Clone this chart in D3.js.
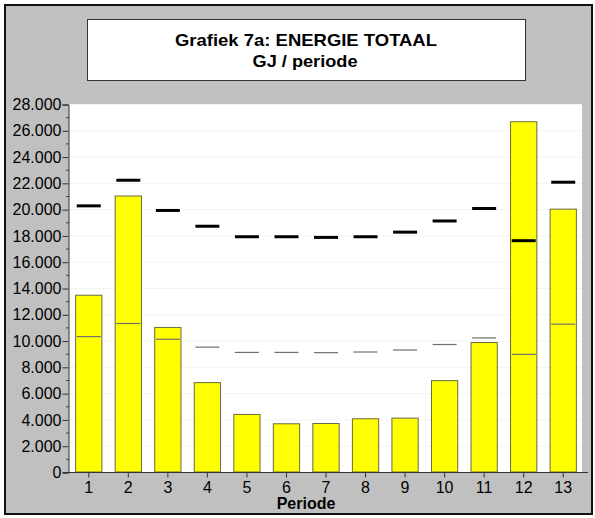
<!DOCTYPE html>
<html><head><meta charset="utf-8">
<script src="https://cdn.jsdelivr.net/npm/d3@7"></script>
<style>body{margin:0;background:#fff}svg{display:block}text{font-family:Arial,"Liberation Sans",sans-serif}</style>
</head><body>
<svg id="c" width="595" height="518"></svg>
<script>
const periods = ["1","2","3","4","5","6","7","8","9","10","11","12","13"];
const barValues = [13450, 21000, 11000, 6800, 4380, 3670, 3690, 4050, 4100, 6950, 9850, 26650, 20000];
const upperValues = [20250, 22200, 19900, 18700, 17900, 17900, 17850, 17900, 18250, 19100, 20050, 17600, 22050];
const lowerValues = [10300, 11300, 10100, 9500, 9100, 9100, 9080, 9130, 9280, 9700, 10200, 8950, 11250];
const yTicks = [0,2000,4000,6000,8000,10000,12000,14000,16000,18000,20000,22000,24000,26000,28000];
const titleLines = ["Grafiek 7a: ENERGIE TOTAAL", "GJ / periode"];
const xTitle = "Periode";

const FONT = "Arial,'Liberation Sans',sans-serif";
const svg = d3.select("#c");
const L = 69, R = 583, T = 104, B = 472;

svg.append("rect").attr("x",5).attr("y",5).attr("width",587).attr("height",509)
  .attr("fill","#c0c0c0").attr("stroke","#111").attr("stroke-width",2);

svg.append("rect").attr("x",87.5).attr("y",19.5).attr("width",438).attr("height",61)
  .attr("fill","#fff").attr("stroke","#333").attr("stroke-width",1);
svg.append("text").attr("x",175).attr("y",45.7)
  .attr("font-size",17).attr("font-weight","bold")
  .attr("textLength",262).attr("lengthAdjust","spacingAndGlyphs").text(titleLines[0]);
svg.append("text").attr("x",252.5).attr("y",66.5)
  .attr("font-size",17).attr("font-weight","bold")
  .attr("textLength",105).attr("lengthAdjust","spacingAndGlyphs").text(titleLines[1]);

svg.append("rect").attr("x",L).attr("y",T).attr("width",R-L-1).attr("height",B-T).attr("fill","#fff");

const x = d3.scaleBand().domain(periods).range([L,R]).paddingInner(0.31).paddingOuter(0.155);
const y = d3.scaleLinear().domain([0,28000]).range([B,T]);

const loc = d3.formatLocale({thousands:".", grouping:[3], decimal:",", currency:["",""]});
const fmt = loc.format(",d");

// faint gridlines
svg.append("g").selectAll("line").data(yTicks.slice(1)).join("line")
  .attr("x1",L).attr("x2",R-1).attr("y1",d=>y(d)+0.5).attr("y2",d=>y(d)+0.5)
  .attr("stroke","#f3f3f3").attr("stroke-width",1);

// bars
svg.append("g").selectAll("rect").data(barValues).join("rect")
  .attr("x",(d,i)=>x(periods[i])+0.5).attr("y",d=>y(d))
  .attr("width",x.bandwidth()-1).attr("height",d=>B-y(d))
  .attr("fill","#ffff00").attr("stroke","#6a6a40").attr("stroke-width",1);

const dashLen = 24;
// thin lower series
svg.append("g").selectAll("line").data(lowerValues).join("line")
  .attr("x1",(d,i)=>x(periods[i])+x.bandwidth()/2-dashLen/2)
  .attr("x2",(d,i)=>x(periods[i])+x.bandwidth()/2+dashLen/2)
  .attr("y1",d=>y(d)).attr("y2",d=>y(d))
  .attr("stroke","#6e6e6e").attr("stroke-width",1.2);
// thick upper series
svg.append("g").selectAll("line").data(upperValues).join("line")
  .attr("x1",(d,i)=>x(periods[i])+x.bandwidth()/2-dashLen/2)
  .attr("x2",(d,i)=>x(periods[i])+x.bandwidth()/2+dashLen/2)
  .attr("y1",d=>y(d)).attr("y2",d=>y(d))
  .attr("stroke","#000").attr("stroke-width",3);

// y axis
const minor = d3.range(1000,28000,2000);
svg.append("g").selectAll("line").data(minor).join("line")
  .attr("x1",L-3).attr("x2",L).attr("y1",d=>y(d)+0.5).attr("y2",d=>y(d)+0.5)
  .attr("stroke","#444");
const ya = svg.append("g").attr("transform",`translate(${L-0.5},0.5)`)
  .call(d3.axisLeft(y).tickValues(yTicks).tickFormat(fmt).tickSize(6).tickPadding(1));
ya.selectAll("text").attr("font-size",16).attr("fill","#000").attr("font-family",FONT);
ya.selectAll("line,path").attr("stroke","#333");

// x axis
const xa = svg.append("g").attr("transform",`translate(0,${B+0.5})`)
  .call(d3.axisBottom(x).tickSize(5).tickPadding(3));
xa.select(".domain").remove();
xa.selectAll("line").attr("stroke","#333");
xa.selectAll("text").attr("font-size",16).attr("fill","#000").attr("y",20.5).attr("dy",0)
  .attr("font-family",FONT);
svg.append("line").attr("x1",63).attr("x2",588).attr("y1",B+0.5).attr("y2",B+0.5).attr("stroke","#333");

svg.append("text").attr("x",306).attr("y",508.5).attr("text-anchor","middle")
  .attr("font-size",16).attr("font-weight","bold").text(xTitle);
</script>
</body></html>
